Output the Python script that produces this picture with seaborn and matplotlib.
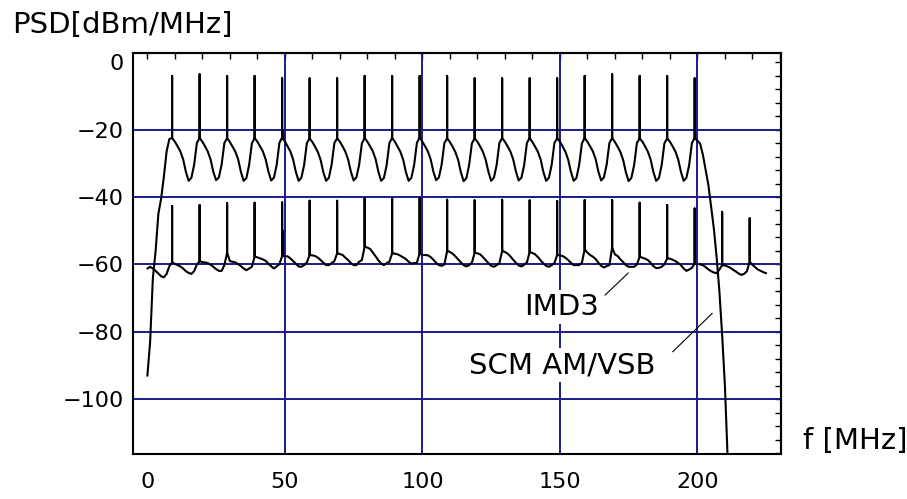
"""
PSD of an SCM AM/VSB signal and its IMD3 products, redrawn with seaborn.
"""

import numpy as np
import pandas as pd
import matplotlib
matplotlib.use("Agg")
import matplotlib.pyplot as plt
import seaborn as sns

# ---------------------------------------------------------
# Data
# ---------------------------------------------------------
# carrier frequencies [MHz]
carrier_f = [9, 19, 29, 39, 49, 59, 69, 79, 89, 99,
             109, 119, 129, 139, 149, 159, 169, 179, 189, 199]
imd_extra_f = [209, 219]

# spike tops [dBm/MHz]
scm_top = [-4.1, -3.6, -4.1, -4.1, -4.8, -4.8, -4.8, -4.1, -4.1, -4.1,
           -4.1, -4.8, -4.8, -4.8, -4.8, -4.1, -3.6, -4.1, -4.1, -4.8]
imd_top = [-42.7, -42.4, -41.8, -41.7, -41.6, -41.1, -41.1, -40.4, -40.4, -40.3,
           -40.8, -41.0, -40.8, -41.0, -41.2, -40.9, -40.9, -41.7, -42.4, -43.4,
           -44.4, -46.3]

# short side spikes making the thick parts at 50 / 100 MHz
side_f = [49.3, 99.3]
imd_side_base = [-57.5, -56.7]
imd_side_top = [-49.8, -48.3]
scm_side_base = [-22.5, -22.5]
scm_side_top = [-19.8, -19.8]

# SCM AM/VSB floor between carriers, 1 MHz steps from 0 to 211 MHz
scm_freq = np.arange(0, 212)
scm_psd = [
    -93.0, -83.0, -64.0, -56.0, -45.0, -40.5, -34.0, -26.5, -22.8, -22.5,
    -23.6, -25.0, -26.5, -28.8, -32.5, -35.2, -34.3, -30.5, -24.0, -22.5,
    -23.6, -25.0, -26.6, -28.9, -32.6, -35.0, -34.2, -30.4, -24.0, -22.5,
    -23.7, -25.1, -26.6, -28.8, -32.5, -35.2, -34.4, -30.5, -24.1, -22.5,
    -23.6, -25.0, -26.5, -28.8, -32.4, -35.1, -34.3, -30.6, -24.0, -22.3,
    -23.5, -25.0, -26.5, -28.9, -32.6, -35.2, -34.3, -30.5, -24.0, -22.6,
    -23.7, -25.1, -26.7, -29.0, -32.7, -35.2, -34.3, -30.4, -24.0, -22.6,
    -23.6, -25.0, -26.6, -28.9, -32.5, -35.1, -34.2, -30.5, -24.1, -22.5,
    -23.6, -25.0, -26.5, -28.8, -32.5, -35.2, -34.4, -30.6, -24.0, -22.5,
    -23.6, -25.1, -26.6, -28.9, -32.6, -35.2, -34.3, -30.5, -24.0, -22.3,
    -23.6, -25.0, -26.5, -28.8, -32.5, -35.0, -34.2, -30.4, -24.0, -22.6,
    -23.7, -25.1, -26.7, -29.0, -32.7, -35.3, -34.4, -30.5, -24.1, -22.6,
    -23.6, -25.0, -26.6, -28.9, -32.5, -35.2, -34.3, -30.5, -24.0, -22.5,
    -23.6, -25.0, -26.5, -28.8, -32.4, -35.1, -34.3, -30.6, -24.0, -22.5,
    -23.7, -25.1, -26.6, -28.9, -32.6, -35.2, -34.3, -30.5, -24.0, -22.6,
    -23.6, -25.0, -26.6, -28.9, -32.5, -35.2, -34.4, -30.5, -24.1, -22.5,
    -23.6, -25.0, -26.5, -28.8, -32.5, -35.1, -34.2, -30.4, -24.0, -22.5,
    -23.7, -25.1, -26.7, -29.0, -32.7, -35.3, -34.3, -30.5, -24.0, -22.6,
    -23.6, -25.0, -26.6, -28.9, -32.6, -35.2, -34.4, -30.6, -24.1, -22.6,
    -23.6, -25.0, -26.5, -28.8, -32.5, -35.2, -34.3, -30.5, -24.0, -22.5,
    -23.3, -24.2, -27.5, -32.0, -36.5, -43.0, -49.5, -58.0, -68.0, -81.0,
    -96.0, -117.5,
]

# IMD3 floor, 1 MHz steps from 0 to 225 MHz
imd_freq = np.arange(0, 226)
imd_psd = [
    -61.2, -60.7, -61.2, -61.9, -62.7, -63.5, -63.8, -62.8, -60.5, -59.4,
    -59.8, -60.2, -60.6, -61.2, -62.0, -62.5, -62.8, -62.0, -60.0, -59.0,
    -59.3, -59.4, -59.6, -60.1, -60.7, -61.4, -61.9, -61.9, -60.2, -56.5,
    -59.0, -59.2, -59.4, -59.9, -60.5, -61.2, -61.7, -61.2, -60.7, -57.7,
    -57.9, -58.2, -58.5, -58.9, -59.8, -60.5, -61.2, -60.6, -59.9, -57.5,
    -57.5, -57.6, -58.2, -59.0, -59.8, -60.6, -60.7, -60.2, -59.4, -57.2,
    -57.3, -57.5, -58.0, -58.7, -59.5, -60.2, -60.2, -59.6, -59.0, -56.7,
    -56.9, -57.2, -58.0, -58.7, -59.6, -60.2, -60.2, -59.2, -58.7, -54.7,
    -55.0, -55.4, -56.5, -57.6, -58.8, -59.7, -60.2, -59.6, -59.2, -56.7,
    -56.8, -57.0, -57.4, -57.9, -58.4, -59.2, -59.7, -59.6, -59.5, -56.7,
    -57.2, -57.2, -57.3, -57.8, -58.6, -59.5, -60.2, -60.4, -60.0, -56.0,
    -56.3, -56.8, -57.6, -58.5, -59.4, -60.2, -60.6, -60.2, -59.5, -56.5,
    -56.7, -57.0, -57.8, -58.7, -59.6, -60.4, -60.7, -60.2, -59.6, -56.0,
    -56.3, -56.8, -57.6, -58.6, -59.5, -60.3, -60.6, -60.1, -59.4, -56.3,
    -56.6, -57.0, -57.8, -58.8, -59.7, -60.4, -60.7, -60.2, -59.6, -57.2,
    -57.3, -57.5, -58.0, -58.7, -59.5, -60.2, -60.2, -60.2, -59.5, -55.5,
    -56.5, -57.2, -57.7, -58.4, -59.5, -60.4, -60.9, -60.5, -60.2, -55.0,
    -57.0, -57.5, -58.5, -59.3, -60.2, -60.7, -60.7, -60.7, -60.0, -57.7,
    -58.0, -58.3, -58.7, -59.5, -60.5, -61.1, -61.0, -60.7, -60.0, -58.2,
    -58.3, -58.6, -59.0, -59.6, -60.2, -61.2, -61.9, -61.5, -61.0, -59.7,
    -59.8, -60.0, -60.2, -60.8, -61.5, -62.0, -62.4, -62.6, -61.5, -60.2,
    -60.3, -60.6, -61.0, -61.6, -62.1, -62.7, -63.1, -62.8, -62.0, -59.2,
    -60.1, -60.8, -61.5, -61.9, -62.3, -62.6,
]

# axes
x_ticks = [0, 50, 100, 150, 200]
y_ticks = [0, -20, -40, -60, -80, -100]
x_grid = [50, 100, 150, 200]
y_grid = [-20, -40, -60, -80, -100]
top_ticks = list(range(0, 231, 10))
right_ticks = list(range(0, -117, -4))

GRID = "#1a1a8c"


def with_spikes(freq, psd, spike_f, spike_top):
    """Insert a vertical spike into the curve at each carrier frequency."""
    tops = dict(zip(spike_f, spike_top))
    rows = []
    for f, p in zip(freq, psd):
        rows.append((f, p))
        if f in tops:
            rows.append((f, tops[f]))
            rows.append((f, p))
    return pd.DataFrame(rows, columns=["f", "psd"])


scm_df = with_spikes(scm_freq, scm_psd, carrier_f, scm_top)
imd_df = with_spikes(imd_freq, imd_psd, carrier_f + imd_extra_f, imd_top)

# ---------------------------------------------------------
# Plot
# ---------------------------------------------------------
sns.set_style("white")
plt.rcParams["font.family"] = ["DejaVu Sans"]
plt.rcParams["text.color"] = "black"
plt.rcParams["xtick.color"] = "black"
plt.rcParams["ytick.color"] = "black"
plt.rcParams["xtick.labelcolor"] = "black"
plt.rcParams["ytick.labelcolor"] = "black"

fig = plt.figure(figsize=(9.07, 4.99), dpi=100)
ax = fig.add_axes([0.1461, 0.0902, 0.7150, 0.8036])

for y in y_grid:
    ax.axhline(y, color=GRID, lw=1.4, zorder=0.5)
for x in x_grid:
    ax.axvline(x, color=GRID, lw=1.4, zorder=0.5)

sns.lineplot(data=scm_df, x="f", y="psd", sort=False, estimator=None,
             color="black", linewidth=1.5, ax=ax)
sns.lineplot(data=imd_df, x="f", y="psd", sort=False, estimator=None,
             color="black", linewidth=1.5, ax=ax)
ax.vlines(side_f, imd_side_base, imd_side_top, color="black", lw=1.5)
ax.vlines(side_f, scm_side_base, scm_side_top, color="black", lw=1.5)

ax.set_xlim(-5.4, 230.4)
ax.set_ylim(-116.2, 2.7)
ax.set_xlabel("")
ax.set_ylabel("")
ax.set_xticks(x_ticks)
ax.set_xticklabels([str(t) for t in x_ticks])
ax.set_yticks(y_ticks)
ax.tick_params(direction="in", length=3, width=1, labelsize=16,
               color="black", labelcolor="black")
ax.tick_params(axis="x", pad=13)
ax.tick_params(axis="y", pad=6.5)

top = ax.secondary_xaxis("top")
top.set_xticks(top_ticks)
top.tick_params(direction="in", length=4, width=1, labeltop=False, color="black")
right = ax.secondary_yaxis("right")
right.set_yticks(right_ticks)
right.tick_params(direction="in", length=4, width=1, labelright=False, color="black")

for axis in (ax, top, right):
    for s in axis.spines.values():
        s.set_linewidth(1.5)
        s.set_color("black")

# curve labels with leader lines
box = dict(facecolor="white", edgecolor="none", pad=2)
ax.text(150.6, -75.0, "IMD3", ha="center", va="baseline", fontsize=21,
        color="black", bbox=box)
ax.text(151.0, -92.3, "SCM AM/VSB", ha="center", va="baseline", fontsize=21,
        color="black", bbox=box)
ax.plot([166.4, 174.9], [-69.1, -62.5], color="black", lw=0.8)
ax.plot([191.0, 205.4], [-85.9, -74.5], color="black", lw=0.8)

fig.text(12 / 907, 1 - 33 / 499, "PSD[dBm/MHz]", ha="left", va="baseline",
         fontsize=21, color="black")
fig.text(803 / 907, 1 - 449 / 499, "f [MHz]", ha="left", va="baseline",
         fontsize=21, color="black")

fig.savefig("out.png", dpi=100)
plt.close(fig)
